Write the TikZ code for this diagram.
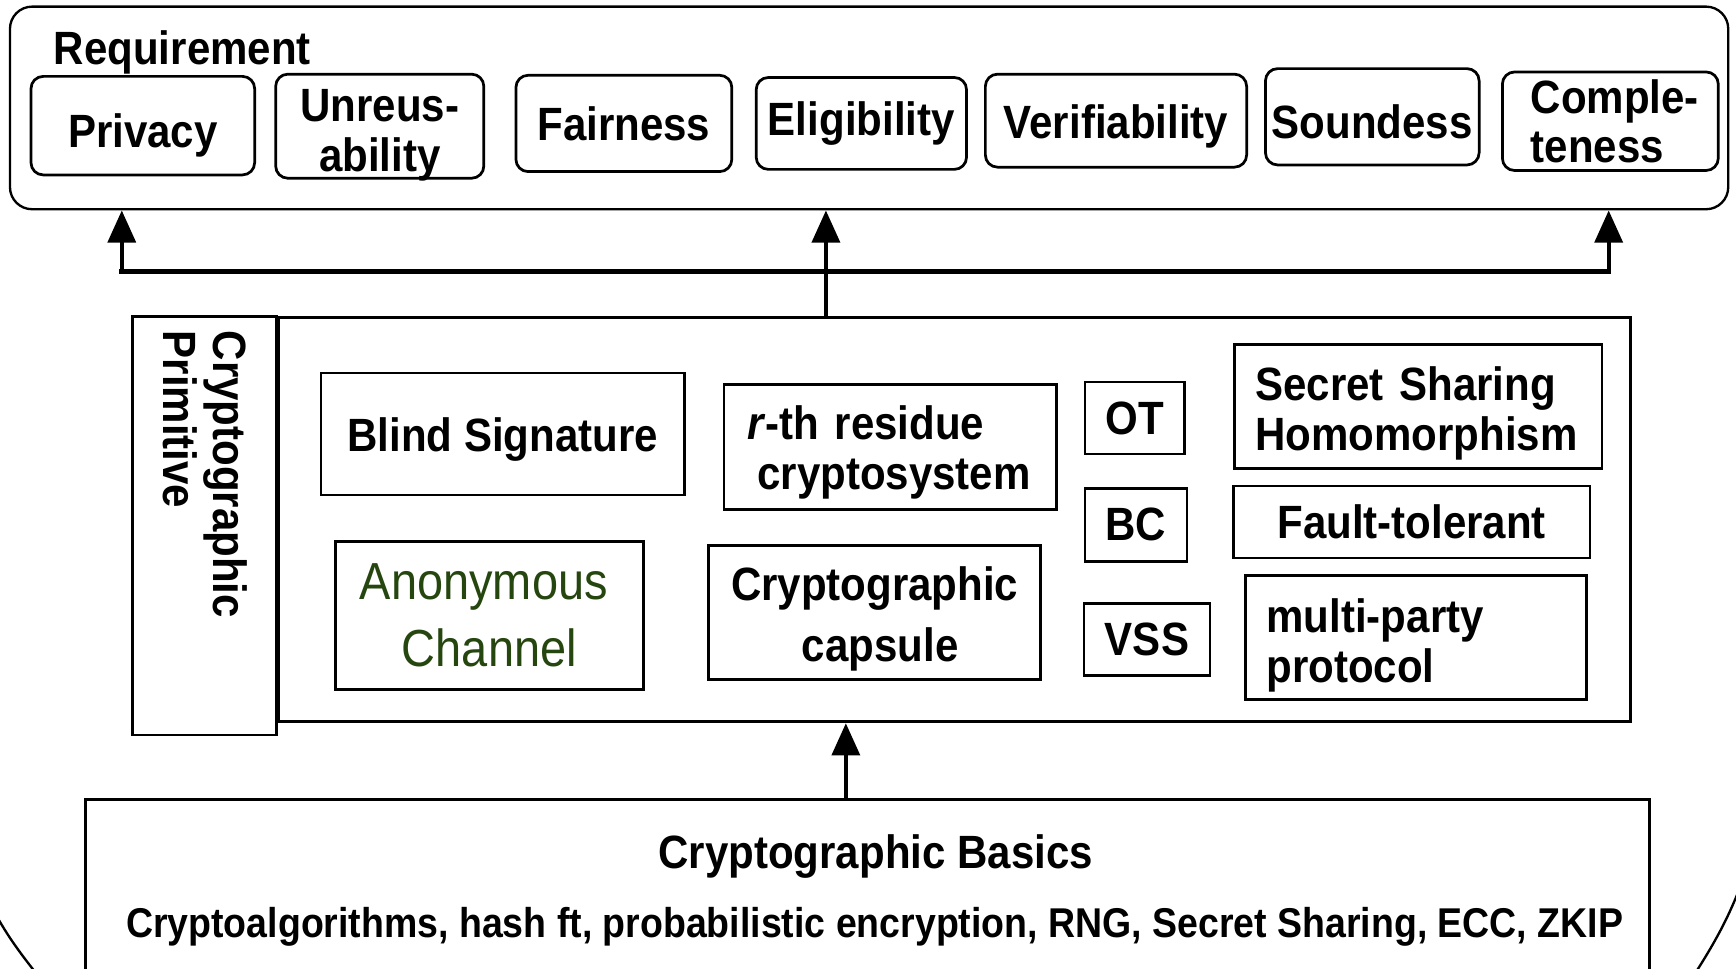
\documentclass[tikz,border=0pt]{standalone}
\usepackage{fontspec}
\setmainfont{Liberation Sans}[FakeStretch=0.9]
\usepackage{tikz}
\usetikzlibrary{arrows.meta,positioning,calc}
\definecolor{crink}{RGB}{0,0,0}
\definecolor{crgreen}{RGB}{38,70,15}
\newcommand\crfont{\fontsize{12}{12.8}\selectfont\bfseries}
\newcommand\capfont{\fontsize{12}{15.6}\selectfont\bfseries}
\newcommand\anonfont{\fontsize{13.4}{17.3}\selectfont}
\newcommand\listfont{\fontsize{10.7}{12}\selectfont\bfseries}
\tikzset{
  reqitem/.style={
    draw=crink, line width=0.7pt, rounded corners=1.1mm,
    align=center, inner sep=0pt, font=\crfont
  },
  primitem/.style={
    draw=crink, line width=0.7pt, align=center,
    inner sep=0pt, font=\crfont
  },
  grp/.style={draw=crink, line width=0.6pt},
  arr/.style={-{Triangle[length=2.9mm,width=2.5mm]}, draw=crink, line width=1.1pt},
  bar/.style={draw=crink, line width=1.4pt, line cap=rect},
  every picture/.append style={line join=miter}
}

\begin{document}
\begin{tikzpicture}[x=0.1mm, y=-0.1mm]
  \useasboundingbox (0,0) rectangle (1568,875);
  \clip (0,0) rectangle (1568,875);
  % requirement layer
  \node[grp, rounded corners=2mm, minimum width=155.2mm, minimum height=18.3mm] (req) at (785,97.5) {};
  \node[anchor=base west, inner sep=0pt, font=\crfont] (reqlbl) at (48,58) {Requirement};
  \node[reqitem, text height=13.8pt, minimum width=20.2mm, minimum height=8.9mm] (privacy) at (129,113.5) {Privacy};
  \node[reqitem, text height=23.3pt, text depth=0pt, minimum width=18.8mm, minimum height=9.4mm] (unreus) at (343,114) {Unreus-\\ability};
  \node[reqitem, minimum width=19.5mm, minimum height=8.7mm] (fair) at (563.5,111.5) {Fairness};
  \node[reqitem, minimum width=19mm, minimum height=8.3mm] (elig) at (778,111.5) {Eligibility};
  \node[reqitem, text height=11.6pt, minimum width=23.6mm, minimum height=8.4mm] (verif) at (1008,109) {Verifiability};
  \node[reqitem, text height=11.1pt, minimum width=19.3mm, minimum height=8.7mm] (sound) at (1239.5,105.5) {Soundess};
  \node[reqitem, align=left, minimum width=19.5mm, minimum height=8.9mm] (compl) at (1454.5,109.5)
    {\hspace*{0.8mm}Comple-\\\hspace*{0.8mm}teness};
  % primitive layer
  \node[grp, line width=0.7pt, minimum width=122.1mm, minimum height=36.5mm] (prim) at (862.5,469.5) {};
  \node[grp, line width=0.7pt, minimum width=13mm, minimum height=37.8mm] (primlbl) at (185,475) {};
  \node[rotate=-90, anchor=north west, align=left, inner sep=0pt, font=\crfont] (primtxt) at (224,298) {Cryptographic\\Primitive};
  \node[primitem, text height=11.6pt, minimum width=32.8mm, minimum height=11mm] (blind) at (454,392) {Blind Signature};
  \node[primitem, font=\anonfont, text=crgreen, minimum width=27.8mm, minimum height=13.4mm] (anon) at (442,556) {Anonymous\hspace*{1mm}\\Channel};
  \node[primitem, align=left, text height=11.6pt, text width=25.8mm, inner xsep=2.1mm, minimum height=11.3mm] (rth) at (804,403.5)
    {\textit{r}-th residue\\\hspace*{0.9mm}cryptosystem};
  \node[primitem, font=\capfont, text height=27.4pt, minimum width=30mm, minimum height=12.1mm] (capsule) at (790,553.5) {Cryptographic\\\hspace*{1mm}capsule};
  \node[primitem, minimum width=9mm, minimum height=6.5mm] (ot) at (1025,377.5) {OT};
  \node[primitem, minimum width=9.2mm, minimum height=6.6mm] (bc) at (1026,474) {BC};
  \node[primitem, minimum width=11.4mm, minimum height=6.5mm] (vss) at (1036,577.5) {VSS};
  \node[primitem, align=left, text height=12.2pt, text width=29.4mm, inner xsep=1.9mm, minimum height=11.2mm] (ssh) at (1281,367) {Secret Sharing\\Homomorphism};
  \node[primitem, minimum width=32.2mm, minimum height=6.5mm] (fault) at (1275,471.5) {Fault-tolerant};
  \node[primitem, align=left, text height=12.5pt, text width=27mm, inner xsep=1.9mm, minimum height=11.2mm] (mpp) at (1279,576) {multi-party\\protocol};
  % basics layer
  \node[grp, line width=0.7pt, minimum width=141.3mm, minimum height=20mm] (basics) at (783.5,822) {};
  \node[font=\crfont, inner sep=0pt] (basetitle) at (791,774) {Cryptographic Basics};
  \node[font=\listfont, inner sep=0pt] (baselist) at (790,837)
    {Cryptoalgorithms, hash ft, probabilistic encryption, RNG, Secret Sharing, ECC, ZKIP};
  % connectors
  \coordinate (barl) at (110,245);
  \coordinate (barr) at (1453,245);
  \coordinate (upmid) at (746,287);
  \coordinate (baseup) at (764,722);
  \draw[bar] (barl) -- (barr);
  \draw[arr] (barl) -- (barl |- req.south);
  \draw[arr] (barr) -- (barr |- req.south);
  \draw[arr] (upmid) -- (upmid |- req.south);
  \draw[arr] (baseup) -- (baseup |- prim.south);
  \draw[grp] (-6,822) .. controls (8,848) and (20,863) .. (38,886);
  \draw[grp] (1574,795) .. controls (1562,828) and (1548,854) .. (1522,893);
\end{tikzpicture}
\end{document}
